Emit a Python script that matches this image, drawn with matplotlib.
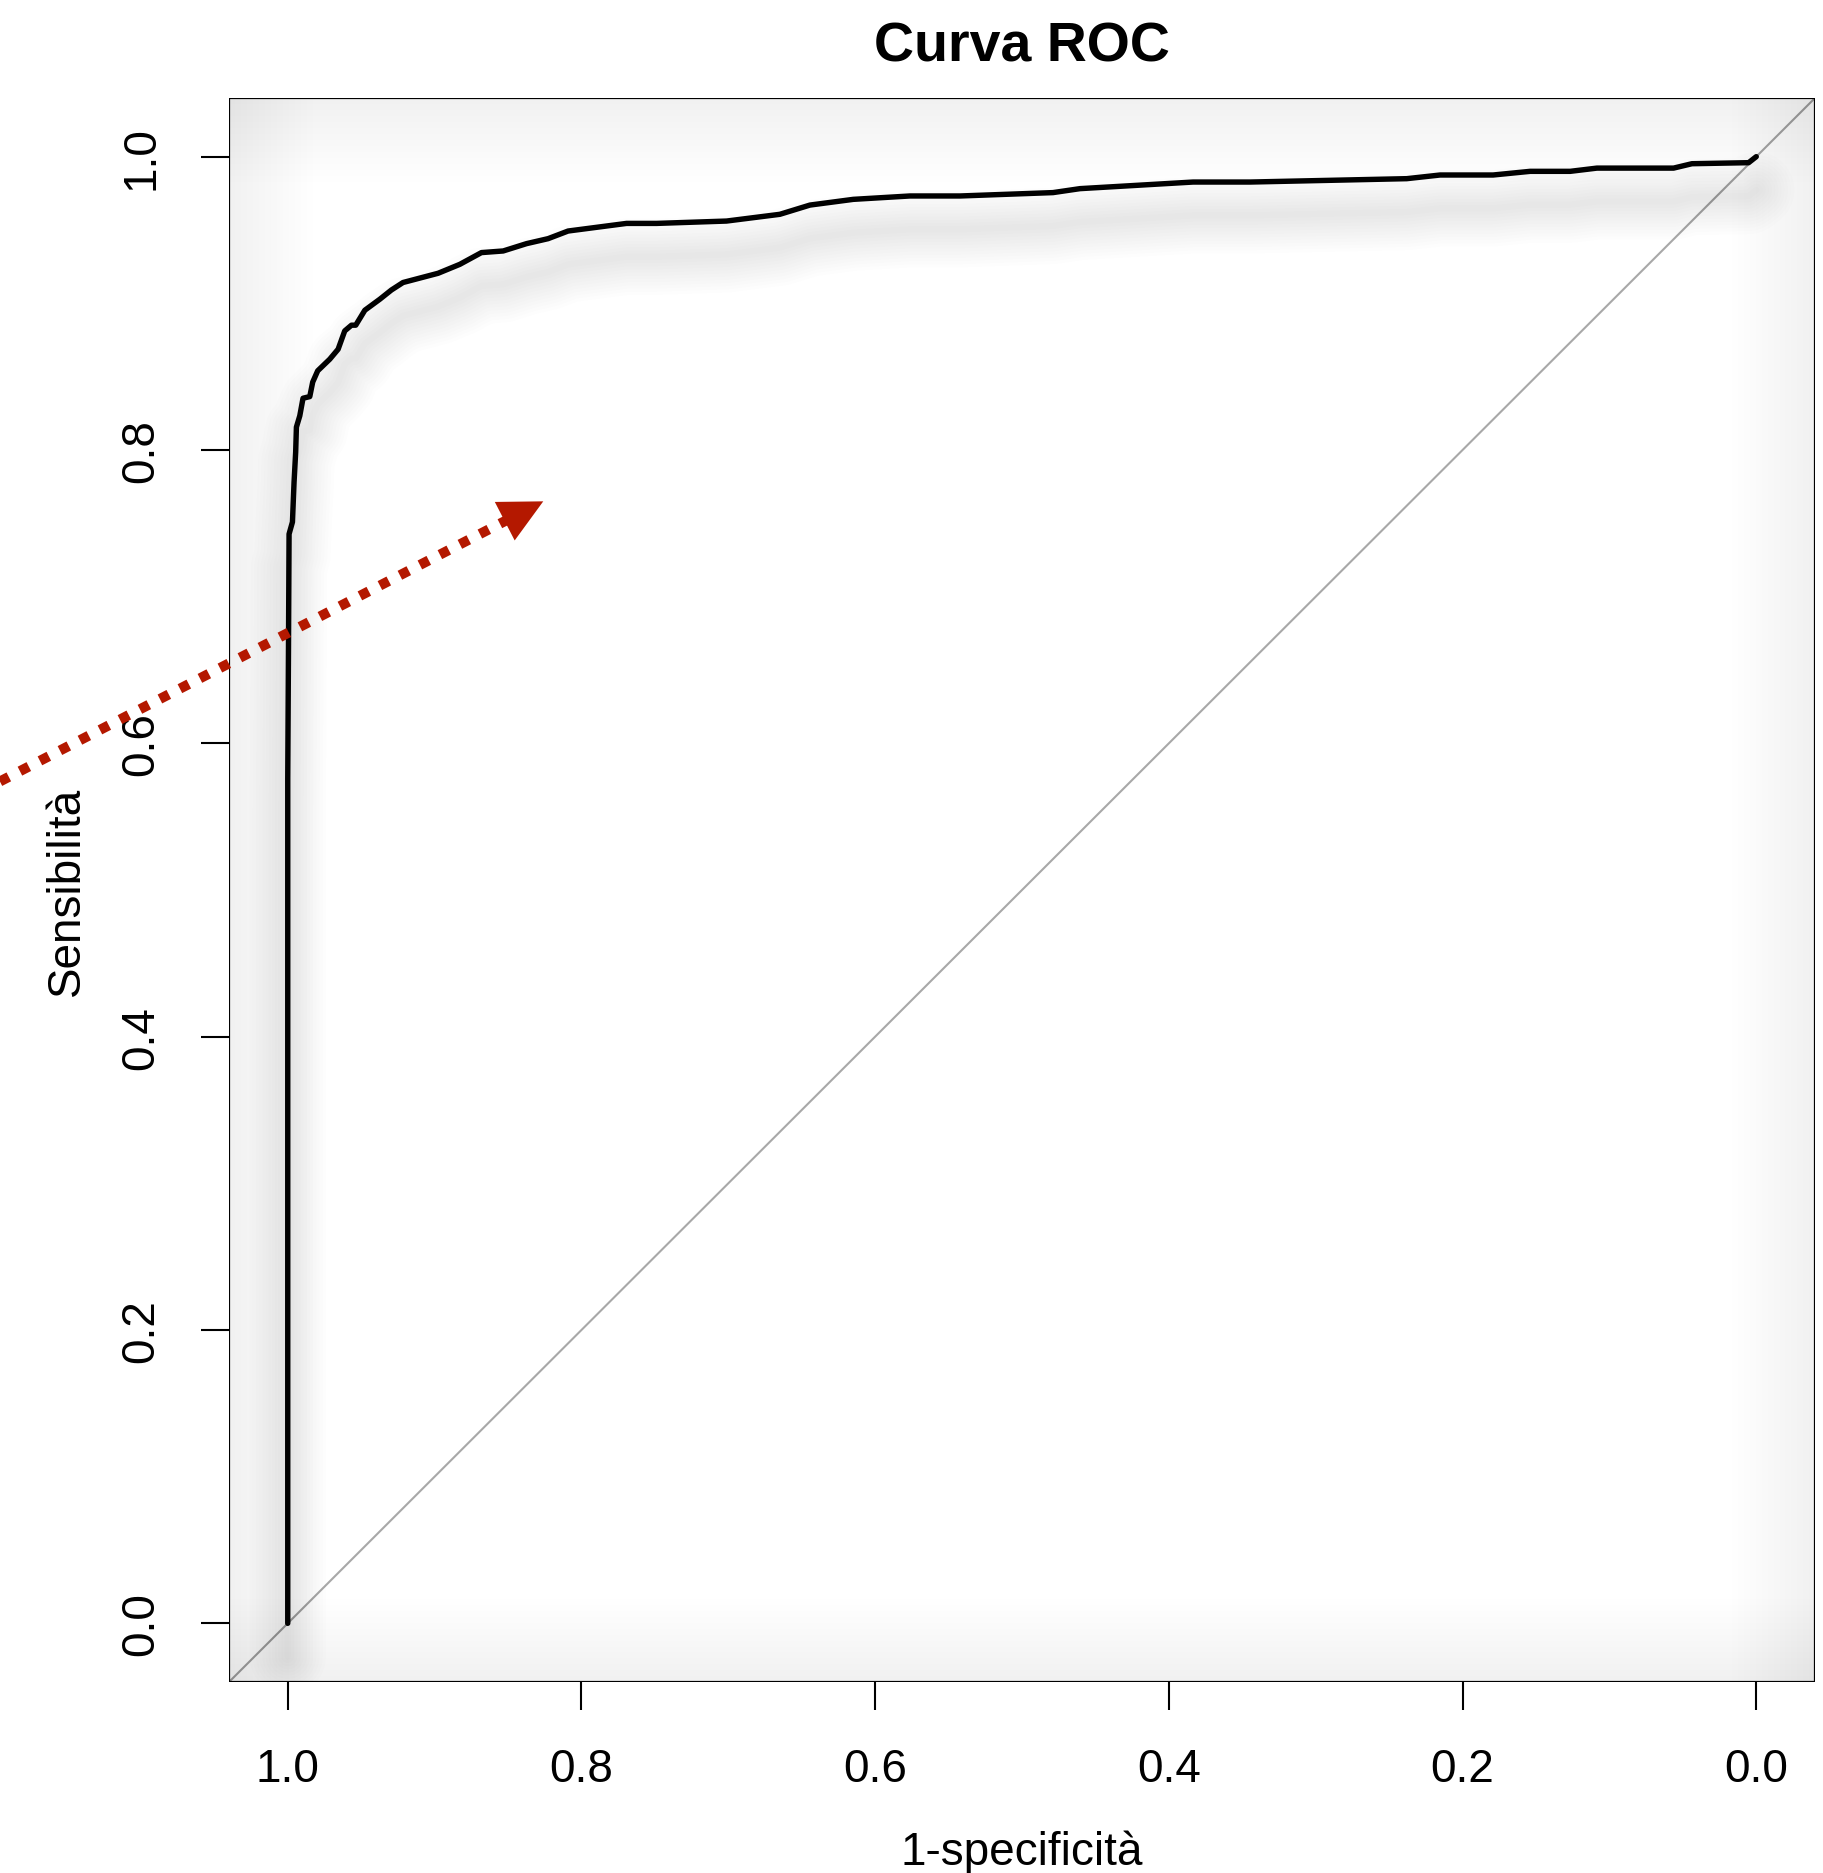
import matplotlib
matplotlib.use("Agg")
import matplotlib.pyplot as plt
import matplotlib.patheffects as pe
import numpy as np

plt.rcParams["font.family"] = ["Liberation Sans", "DejaVu Sans"]

# ROC curve (specificity on x, sensitivity on y)
specificity = [1.0, 1.0, 0.9995, 0.9991, 0.9968, 0.9957, 0.9946, 0.9941, 0.9918,
               0.9896, 0.9850, 0.9830, 0.9796, 0.9714, 0.9657, 0.9612, 0.9566,
               0.9537, 0.9475, 0.9373, 0.9294, 0.9215, 0.8976, 0.8828, 0.8681,
               0.8533, 0.8374, 0.8227, 0.8091, 0.7693, 0.7488, 0.7012, 0.6649,
               0.6444, 0.6149, 0.5763, 0.5422, 0.4789, 0.4605, 0.3835, 0.3447,
               0.2380, 0.2153, 0.1792, 0.1540, 0.1267, 0.1085, 0.0563, 0.0438,
               0.0052, 0.0]
sensitivity = [0.0, 0.576, 0.6644, 0.7427, 0.7509, 0.7781, 0.7986, 0.8156, 0.8233,
               0.8353, 0.8364, 0.8463, 0.8540, 0.8619, 0.8687, 0.8812, 0.8851,
               0.8851, 0.8953, 0.9028, 0.9091, 0.9142, 0.9205, 0.9266, 0.9346,
               0.9357, 0.9407, 0.9441, 0.9493, 0.9545, 0.9545, 0.9561, 0.9607,
               0.9670, 0.9709, 0.9732, 0.9732, 0.9755, 0.9782, 0.9827, 0.9827,
               0.9850, 0.9875, 0.9875, 0.9900, 0.9900, 0.9922, 0.9922, 0.9952,
               0.9959, 1.0]

x_ticks = [1.0, 0.8, 0.6, 0.4, 0.2, 0.0]
y_ticks = [0.0, 0.2, 0.4, 0.6, 0.8, 1.0]
title = "Curva ROC"
x_label = "1-specificità"
y_label = "Sensibilità"

# red dotted pointer (tail starts off the left edge), data units
arrow_tail = (1.196, 0.574)
arrow_tip = (0.826, 0.765)
red = "#b41800"


def soft_shadow(dy, spread, steps=12, alpha=0.007):
    # stack of faint offset strokes ~ blurred drop shadow
    fx = [pe.Stroke(offset=(0, -dy), linewidth=spread * (i + 1) / steps,
                    foreground="black", alpha=alpha) for i in range(steps)]
    return fx + [pe.Normal()]


fig = plt.figure(figsize=(18.23, 18.74), dpi=100)
ax = fig.add_axes([0.12562, 0.10192, 0.86999, 0.84525])
ax.set_xlim(1.04, -0.04)
ax.set_ylim(-0.04, 1.04)

# diagonal reference line across the whole box
ax.plot([1.04, -0.04], [-0.04, 1.04], color="#a8a8a8", lw=1.5, zorder=2)

ax.plot(specificity, sensitivity, color="black", lw=3.9, zorder=3,
        solid_joinstyle="round", solid_capstyle="round",
        path_effects=soft_shadow(24, 55))

# dotted pointer + head
tail = np.array(arrow_tail)
tip = np.array(arrow_tip)
d = (tip - tail) / np.hypot(*(tip - tail))
base = tip - 0.027 * d
ax.plot([tail[0], base[0]], [tail[1], base[1]], color=red, lw=7.2,
        linestyle=(0, (1, 1.25)), dash_capstyle="butt", clip_on=False, zorder=5)
ax.annotate("", xy=tuple(tip), xytext=tuple(base),
            arrowprops=dict(arrowstyle="-|>,head_length=0.4,head_width=0.2",
                            mutation_scale=78, color=red, lw=0,
                            shrinkA=0, shrinkB=0),
            annotation_clip=False, zorder=6)

ax.set_xticks(x_ticks)
ax.set_xticklabels([f"{t:.1f}" for t in x_ticks])
ax.set_yticks(y_ticks)
ax.set_yticklabels([f"{t:.1f}" for t in y_ticks])
ax.tick_params(length=20, width=1.5, labelsize=33, pad=27, color="black")
ax.tick_params(axis="y", labelrotation=90)
for lab in ax.get_yticklabels():
    lab.set_va("center")

for sp in ax.spines.values():
    sp.set_linewidth(1.6)
    sp.set_path_effects(soft_shadow(0, 120, steps=14, alpha=0.003))
    sp.set_clip_path(ax.patch)

ax.set_xlabel(x_label, fontsize=33, va="baseline")
ax.xaxis.set_label_coords(0.5, -0.1149)
ax.set_ylabel(y_label, fontsize=33, va="baseline")
ax.yaxis.set_label_coords(-0.0946, 0.5)

ax.text(0.5, 1.0234, title, transform=ax.transAxes, ha="center", va="baseline",
        fontsize=40, fontweight="bold")

fig.savefig("out.png", dpi=100)
